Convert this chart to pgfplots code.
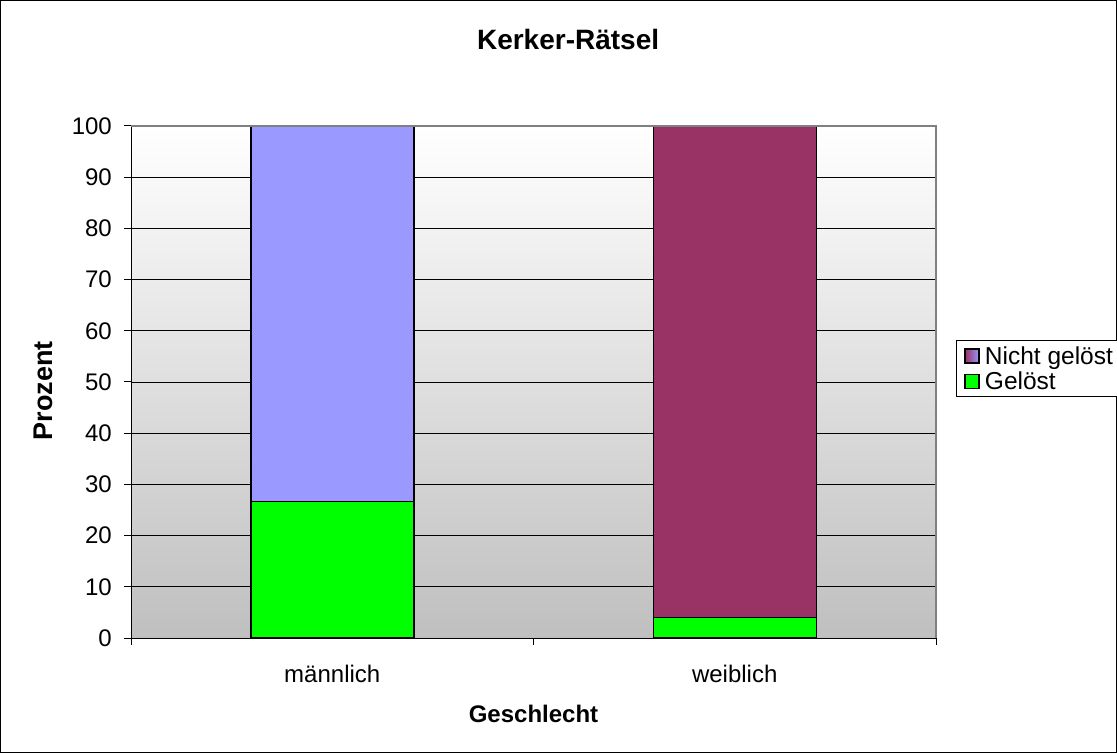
\documentclass[border=0pt]{standalone}
\usepackage{fontspec}
\setmainfont{Liberation Sans}
\usepackage{pgfplots}
\pgfplotsset{compat=1.18}

\definecolor{lila}{RGB}{153,153,255}
\definecolor{weinrot}{RGB}{153,51,102}
\definecolor{gruen}{RGB}{0,255,0}
\definecolor{rahmen}{RGB}{128,128,128}

\begin{document}
\begin{tikzpicture}
\draw[black, line width=1bp] (0.5bp,0.5bp) rectangle (1116.5bp,752.5bp);

\begin{axis}[
  at={(131bp,115bp)}, anchor=south west,
  width=805bp, height=512bp, scale only axis,
  xmin=0, xmax=2, ymin=0, ymax=100,
  ybar stacked, bar width=163bp,
  axis background/.style={top color=white, bottom color=black!25},
  axis x line*=bottom, axis y line*=left,
  axis line style={black, line width=1bp},
  tick align=outside, major tick length=7bp,
  tick style={black, line width=1bp},
  xtick={0,1,2}, xticklabels={},
  extra x ticks={0.5,1.5},
  extra x tick labels={männlich,weiblich},
  extra x tick style={major tick length=0pt},
  ytick={0,10,...,100},
  ymajorgrids, major grid style={black, line width=0.8bp},
  /pgf/number format/assume math mode=true,
  tick label style={font=\fontsize{24bp}{28bp}\selectfont, inner sep=0pt},
  yticklabel style={anchor=east, xshift=-12bp},
  xticklabel style={anchor=base, yshift=-44bp},
  title={Kerker-Rätsel},
  title style={font=\bfseries\fontsize{28bp}{32bp}\selectfont, inner sep=0pt,
    at={(axis description cs:0.543,1.1387)}, anchor=base},
  xlabel={Geschlecht},
  xlabel style={font=\bfseries\fontsize{24bp}{28bp}\selectfont, inner sep=0pt,
    at={(axis description cs:0.5,-0.166)}, anchor=base},
  ylabel={Prozent},
  ylabel style={font=\bfseries\fontsize{27bp}{31bp}\selectfont, inner sep=0pt,
    at={(axis description cs:-0.097,0.483)}, anchor=base, rotate=0},
  legend style={at={(axis description cs:1.0248,0.582)}, anchor=north west,
    draw=black, line width=1bp, fill=white,
    font=\fontsize{24.5bp}{28bp}\selectfont,
    inner xsep=8bp, inner ysep=4bp, row sep=2bp},
  legend cell align=left,
  legend image code/.code={\draw[#1] (0bp,-7bp) rectangle (14bp,7bp); \path (17bp,0bp);},
  after end axis/.code={
    \draw[rahmen, line width=2bp] (rel axis cs:0,1) -- (rel axis cs:1,1) -- (rel axis cs:1,0);
  },
]
\addplot[fill=gruen, draw=black, line width=1.5bp, forget plot]
  coordinates {(0.5,26.7) (1.5,4.0)};
\addplot[fill=lila, draw=black, line width=1.5bp, forget plot]
  coordinates {(0.5,73.3) (1.5,0)};
\addplot[fill=weinrot, draw=black, line width=1.5bp, forget plot]
  coordinates {(0.5,0) (1.5,96.0)};

\addlegendimage{draw=black, line width=1.5bp, left color=weinrot, right color=lila}
\addlegendentry{Nicht gelöst}
\addlegendimage{draw=black, line width=1.5bp, fill=gruen}
\addlegendentry{Gelöst}
\end{axis}

\pgfresetboundingbox
\useasboundingbox (0,0) rectangle (1117bp,753bp);
\end{tikzpicture}
\end{document}
